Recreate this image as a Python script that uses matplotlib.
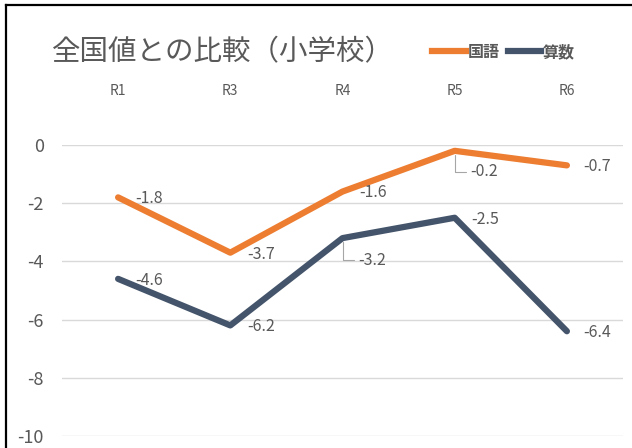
import matplotlib
matplotlib.use("Agg")
import matplotlib.pyplot as plt
from matplotlib.lines import Line2D

plt.rcParams['font.family'] = ['Noto Sans CJK JP', 'DejaVu Sans']

categories = ["R1", "R3", "R4", "R5", "R6"]
kokugo = [-1.8, -3.7, -1.6, -0.2, -0.7]
sansu = [-4.6, -6.2, -3.2, -2.5, -6.4]
yticks = [0, -2, -4, -6, -8, -10]
title = "全国値との比較（小学校）"
series_names = ["国語", "算数"]

orange = "#ED7D31"
navy = "#44546A"
gray = "#595959"

W, H = 632, 448
fig = plt.figure(figsize=(W / 100, H / 100), dpi=100)
fig.patch.set_facecolor("white")

# axes: x from 62 to 623 px, y from 145 (0) to 436 (-10)
ax = fig.add_axes([62 / W, 1 - 436 / H, (623 - 62) / W, (436 - 145) / H])
x = list(range(len(categories)))
ax.set_xlim(-0.5, len(categories) - 0.5)
ax.set_ylim(-10, 0)
ax.set_yticks(yticks)
ax.set_yticklabels([str(v) for v in yticks], fontsize=13, color=gray)
ax.grid(axis='y', color="#D9D9D9", linewidth=1)
ax.set_axisbelow(True)
for s in ax.spines.values():
    s.set_visible(False)
ax.tick_params(axis='y', length=0, pad=13)
ax.xaxis.tick_top()
ax.set_xticks(x)
ax.set_xticklabels(categories, fontsize=10, color=gray)
ax.tick_params(axis='x', length=0, pad=34)

ax.plot(x, kokugo, color=orange, lw=4.5, solid_capstyle='round', clip_on=False, zorder=3)
ax.plot(x, sansu, color=navy, lw=4.5, solid_capstyle='round', clip_on=False, zorder=3)

# data labels
leader = {(0, 3): (11, -15), (1, 2): (11, -16)}
for si, vals in enumerate([kokugo, sansu]):
    for i, v in enumerate(vals):
        if (si, i) in leader:
            off = leader[(si, i)]
            ax.annotate(f"{v:.1f}", xy=(i, v), xytext=off, textcoords='offset points',
                        fontsize=11.5, color=gray, ha='left', va='center',
                        arrowprops=dict(arrowstyle='-', color="#A6A6A6", lw=0.8,
                                        connectionstyle="angle,angleA=0,angleB=90,rad=0",
                                        shrinkA=1, shrinkB=3))
        else:
            ax.annotate(f"{v:.1f}", xy=(i, v), xytext=(12, -1), textcoords='offset points',
                        fontsize=11.5, color=gray, ha='left', va='center')

# title
fig.text(52 / W, 1 - 52 / H, title, fontsize=20.5, color=gray, ha='left', va='center')

# legend
handles = [Line2D([0], [0], color=orange, lw=4.5), Line2D([0], [0], color=navy, lw=4.5)]
leg = fig.legend(handles, series_names, loc='center left', bbox_to_anchor=(418 / W, 1 - 52 / H),
                 ncol=2, frameon=False, handlelength=2.1, handletextpad=0.1,
                 columnspacing=0.5, labelcolor=gray,
                 prop={'weight': 'bold', 'size': 11.5})

# border lines (top and left)
fig.add_artist(Line2D([6 / W, 6 / W], [0, 1 - 5 / H], color='black', lw=1.6, transform=fig.transFigure))
fig.add_artist(Line2D([6 / W, 1], [1 - 5 / H, 1 - 5 / H], color='black', lw=1.6, transform=fig.transFigure))

fig.savefig("out.png", dpi=100)
